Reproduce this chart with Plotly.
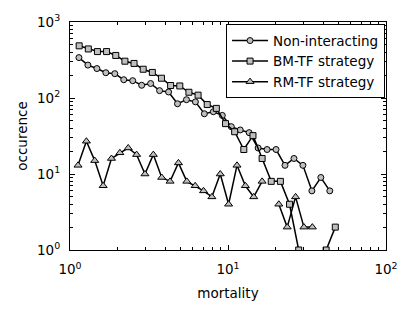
import plotly.graph_objects as go

# Non-interacting (circles)
x_non = [1.139, 1.298, 1.480, 1.686, 1.921, 2.189, 2.494, 2.842, 3.238, 3.690,
         4.205, 4.791, 5.459, 6.220, 7.087, 8.075, 9.203, 10.49, 11.95, 13.61,
         15.51, 17.68, 20.14, 22.95, 26.15, 29.80, 33.96, 38.69, 44.09]
y_non = [340, 271, 244, 215, 209, 174, 169, 147, 155, 125,
         120, 84, 95, 89, 62, 66, 59, 42, 38, 35,
         22, 21, 21, 13, 16, 13, 6, 9, 6]

# BM-TF strategy (squares)
x_bm = [1.143, 1.306, 1.492, 1.704, 1.948, 2.226, 2.543, 2.905, 3.320, 3.793,
        4.335, 4.953, 5.658, 6.465, 7.387, 8.440, 9.645, 11.02, 12.59, 14.39,
        16.44, 18.78, 21.46, 24.52, 28.02, 32.02, 36.58, 41.80, 47.76]
y_bm = [486, 442, 408, 408, 363, 305, 285, 239, 217, 182,
        146, 144, 119, 109, 82, 73, 46, 36, 21, 32,
        16, 8, 8, 4, 1, None, None, 1, 2]

# RM-TF strategy (triangles)
x_rm = [1.124, 1.270, 1.434, 1.621, 1.830, 2.068, 2.336, 2.639, 2.982, 3.368,
        3.805, 4.298, 4.857, 5.486, 6.198, 7.001, 7.909, 8.933, 10.09, 11.40,
        12.88, 14.55, 16.44, 18.57, 20.97, 23.70, 26.77, 30.24, 34.17]
y_rm = [13, 27, 15, 7, 16, 19, 22, 18, 10, 18,
        9, 8, 14, 8, 7, 6, 5, 10, 4, 13,
        7, 5, 8, None, 4, 2, 5, 2, 2]

series_names = ["Non-interacting", "BM-TF strategy", "RM-TF strategy"]

x_tickvals = [1, 10, 100]
x_ticktext = ["10<sup>0</sup>", "10<sup>1</sup>", "10<sup>2</sup>"]
y_tickvals = [1, 10, 100, 1000]
y_ticktext = ["10<sup>0</sup>", "10<sup>1</sup>", "10<sup>2</sup>", "10<sup>3</sup>"]

FONT = "DejaVu Sans"
FS = 13.5
FILL = "#bfbfbf"

fig = go.Figure()
for xs, ys, name, sym, sz in [
    (x_non, y_non, series_names[0], "circle", 6),
    (x_bm, y_bm, series_names[1], "square", 6),
    (x_rm, y_rm, series_names[2], "triangle-up", 7),
]:
    fig.add_trace(go.Scatter(
        x=xs, y=ys, name=name, mode="lines+markers",
        connectgaps=False,
        line=dict(color="black", width=1.5),
        marker=dict(symbol=sym, size=sz, color=FILL,
                    line=dict(color="black", width=1)),
    ))

minor_x = [m * 10 ** d for d in range(0, 2) for m in range(2, 10)]
minor_y = [m * 10 ** d for d in range(0, 3) for m in range(2, 10)]

axis_common = dict(
    showline=True, linecolor="black", linewidth=1.2, mirror="allticks",
    ticks="inside", ticklen=5, tickwidth=1, tickcolor="black",
    showgrid=False, zeroline=False,
    tickfont=dict(family=FONT, size=FS, color="black"),
    title_font=dict(family=FONT, size=FS, color="black"),
)

fig.update_xaxes(
    type="log", range=[0, 2], tickmode="array",
    tickvals=x_tickvals, ticktext=x_ticktext,
    minor=dict(tickmode="array", tickvals=minor_x, ticks="inside",
               ticklen=2.5, tickwidth=1, tickcolor="black", showgrid=False),
    ticklabelstandoff=7,
    title_text="mortality", title_standoff=12,
    **axis_common,
)
fig.update_yaxes(
    type="log", range=[0, 3], tickmode="array",
    tickvals=y_tickvals, ticktext=y_ticktext,
    minor=dict(tickmode="array", tickvals=minor_y, ticks="inside",
               ticklen=2.5, tickwidth=1, tickcolor="black", showgrid=False),
    ticklabelstandoff=6,
    title_text="occurence", title_standoff=6,
    **axis_common,
)

fig.update_layout(
    width=415, height=311,
    margin=dict(l=70, r=29, t=21, b=53),
    paper_bgcolor="white", plot_bgcolor="white",
    font=dict(family=FONT, size=FS, color="black"),
    showlegend=True,
    hovermode=False,
    legend=dict(
        x=0.997, y=0.99, xanchor="right", yanchor="top",
        bgcolor="white", bordercolor="black", borderwidth=1,
        font=dict(family=FONT, size=FS, color="black"),
        itemwidth=36, tracegroupgap=0,
    ),
)

# remove the browser's default body margin so the figure sits at (0, 0)
fig.write_html("out.html",
               config={"displayModeBar": False},
               post_script="document.body.style.margin='0';")
